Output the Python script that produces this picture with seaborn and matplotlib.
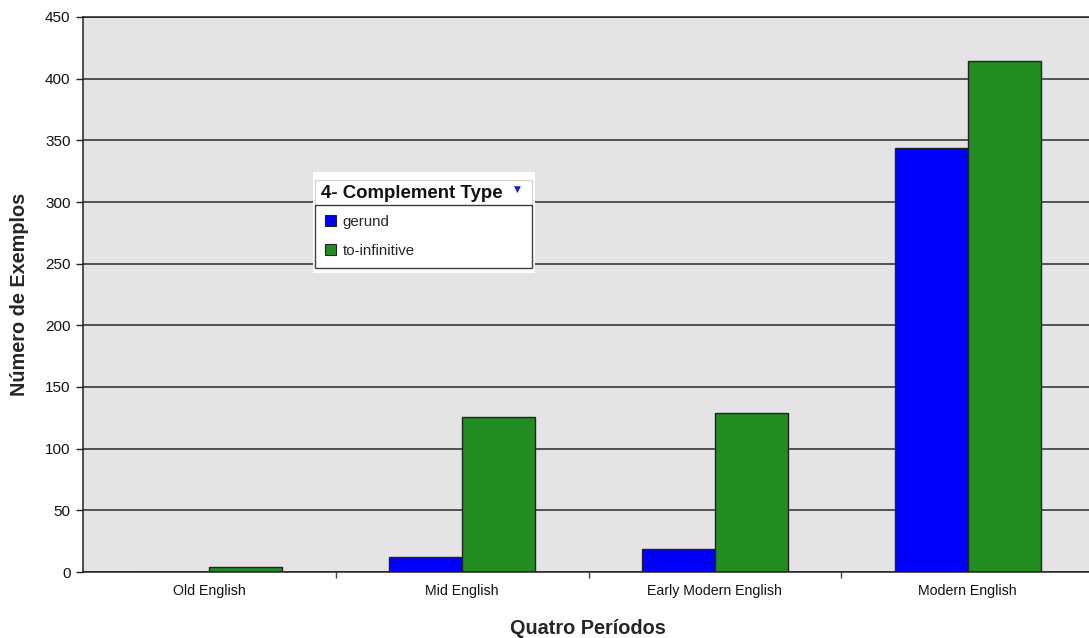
import matplotlib
matplotlib.use("Agg")
import matplotlib.pyplot as plt
from matplotlib.patches import Rectangle
from matplotlib.ticker import FixedLocator
import pandas as pd
import seaborn as sns

periods = ["Old English", "Mid English", "Early Modern English", "Modern English"]
gerund = [0, 12, 19, 344]
to_infinitive = [4, 126, 129, 414]
series_names = ["gerund", "to-infinitive"]
y_ticks = list(range(0, 451, 50))

df = pd.DataFrame({
    "period": periods * 2,
    "tipo": [series_names[0]] * len(periods) + [series_names[1]] * len(periods),
    "n": gerund + to_infinitive,
})

sns.set_theme(style="white")
plt.rcParams["font.family"] = ["Liberation Sans", "DejaVu Sans"]

W, H = 1089, 638
fig = plt.figure(figsize=(W / 100, H / 100), dpi=100)
fig.patch.set_facecolor("white")
# plot area runs slightly past the right edge of the canvas
ax = fig.add_axes([83 / W, 1 - 572 / H, (1094 - 83) / W, (572 - 17) / H])
ax.set_facecolor("#E6E3E6")

palette = {"gerund": "#0000FF", "to-infinitive": "#228B22"}
sns.barplot(data=df, x="period", y="n", hue="tipo", order=periods,
            hue_order=series_names, palette=palette, width=0.578, gap=0,
            edgecolor="#222222", linewidth=1.0, saturation=1, ax=ax)

ax.set_ylim(0, 450)
ax.set_xlim(-0.5, 3.5)
ax.yaxis.set_major_locator(FixedLocator(y_ticks))
ax.set_axisbelow(True)
ax.grid(axis="y", color="#2a2a2a", linewidth=1.1)
ax.grid(axis="x", visible=False)

ax.xaxis.set_minor_locator(FixedLocator([0.5, 1.5, 2.5]))
ax.tick_params(axis="x", which="major", length=0, pad=9, labelsize=10.2, colors="#111111")
ax.tick_params(axis="x", which="minor", bottom=True, length=4, width=1, color="#444444")
ax.tick_params(axis="y", which="major", left=True, length=5, width=1, color="#222222",
               labelsize=11, labelcolor="#111111", pad=4)

ax.spines["right"].set_visible(False)
for side in ["left", "bottom", "top"]:
    ax.spines[side].set_color("#222222")
    ax.spines[side].set_linewidth(1.1)

ax.set_xlabel("Quatro Períodos", fontsize=14.3, fontweight="bold")
ax.set_ylabel("Número de Exemplos", fontsize=14.3, fontweight="bold")
ax.xaxis.set_label_coords((588 - 83) / (1094 - 83), -(628 - 572) / (572 - 17))
ax.xaxis.label.set_va("center")
ax.yaxis.set_label_coords(-(83 - 20) / (1094 - 83), (572 - 294) / (572 - 17))
ax.yaxis.label.set_va("center")

handles, labels = ax.get_legend_handles_labels()
if ax.get_legend() is not None:
    ax.get_legend().remove()

# legend panel: white backdrop, header row, framed entry list
fig.patches.append(Rectangle((313 / W, 1 - 273 / H), (535 - 313) / W, (273 - 172) / H,
                             transform=fig.transFigure, facecolor="white",
                             edgecolor="none", zorder=3))
fig.patches.append(Rectangle((315 / W, 1 - 205 / H), (532 - 315) / W, (205 - 180) / H,
                             transform=fig.transFigure, facecolor="white",
                             edgecolor="#cfcfcf", linewidth=0.8, zorder=3.5))
fig.text(321 / W, 1 - 193 / H, "4- Complement Type", fontsize=13.4, fontweight="bold",
         va="center", ha="left", color="#111111", zorder=6)
fig.text(517 / W, 1 - 189 / H, "▼", fontsize=6.5, color="#1a1adb",
         va="center", ha="center", family="DejaVu Sans", zorder=6)

leg = fig.legend(handles, labels, loc="upper left",
                 bbox_to_anchor=(315 / W, 1 - 267 / H, (532 - 315) / W, (267 - 205) / H),
                 mode="expand", frameon=True, fancybox=False, borderaxespad=0,
                 handlelength=0.75, handleheight=0.75, handletextpad=0.45,
                 labelspacing=1.0, borderpad=0.65, fontsize=10.8)
leg.set_zorder(5)
leg.get_frame().set_edgecolor("#111111")
leg.get_frame().set_linewidth(1.0)
leg.get_frame().set_facecolor("white")
for h in leg.legend_handles:
    h.set_edgecolor("#222222")
    h.set_linewidth(0.8)

fig.savefig("out.png", dpi=100, facecolor="white")
